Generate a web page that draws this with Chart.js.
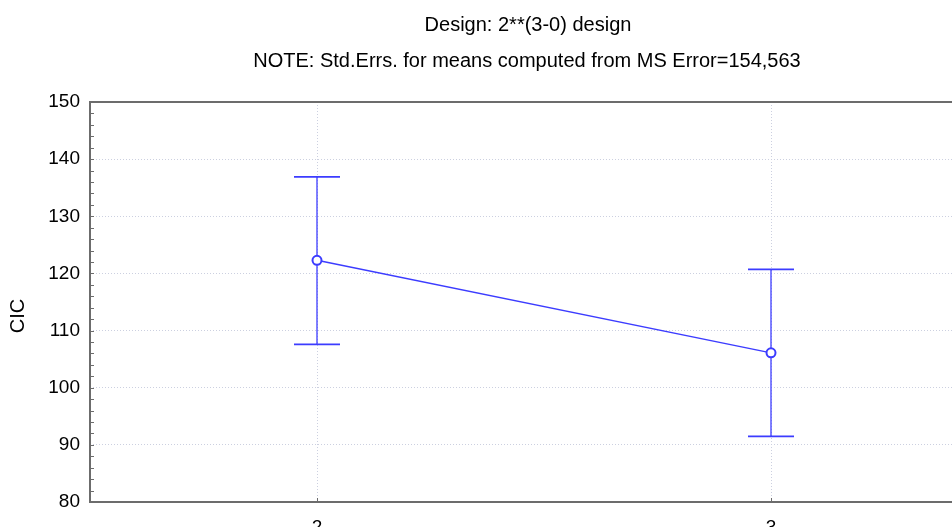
<!DOCTYPE html>
<html>
<head>
<meta charset="utf-8">
<script src="https://cdn.jsdelivr.net/npm/chart.js@4.4.1/dist/chart.umd.min.js"></script>
<style>
  html, body { margin: 0; padding: 0; background: #ffffff; overflow: hidden; }
  #wrap { width: 1054px; height: 527px; }
</style>
</head>
<body>
<div id="wrap"><canvas id="chart" width="1054" height="527"></canvas></div>
<script>
// Factor levels and cell means with their error-bar limits
const levels = ['2', '3'];
const means = [122.3, 106.1];
const upperLimits = [136.9, 120.7];
const lowerLimits = [107.6, 91.5];

const titleLines = ['Design: 2**(3-0) design', 'NOTE: Std.Errs. for means computed from MS Error=154,563'];
const yAxisLabel = 'CIC';
const yMin = 80, yMax = 150, yMajorStep = 10, yMinorStep = 2;

const blue = '#3c3cff';
const axisGray = '#6c6c6c';
const gridGray = '#ccd0e0';
const fontFamily = '"Liberation Sans", Arial, sans-serif';

// Two-line heading and the rotated y-axis caption
const captions = {
  id: 'captions',
  afterDraw(chart) {
    const { ctx } = chart;
    ctx.save();
    ctx.fillStyle = '#000000';
    ctx.font = '20px ' + fontFamily;
    ctx.textAlign = 'center';
    ctx.textBaseline = 'alphabetic';
    ctx.fillText(titleLines[0], 528, 31);
    ctx.fillText(titleLines[1], 527, 67);
    ctx.translate(24, 316);
    ctx.rotate(-Math.PI / 2);
    ctx.font = '20px ' + fontFamily;
    ctx.fillText(yAxisLabel, 0, 0);
    ctx.restore();
  }
};

// Vertical whiskers with caps, drawn under the mean markers
const errorBars = {
  id: 'errorBars',
  beforeDatasetsDraw(chart) {
    const { ctx, scales: { x, y } } = chart;
    ctx.save();
    ctx.setLineDash([]);
    ctx.strokeStyle = blue;
    levels.forEach((lv, i) => {
      const px = x.getPixelForValue(i);
      const top = y.getPixelForValue(upperLimits[i]);
      const bot = y.getPixelForValue(lowerLimits[i]);
      const cap = 23;
      ctx.lineWidth = 1.3;
      ctx.beginPath();
      ctx.moveTo(px, top); ctx.lineTo(px, bot);
      ctx.stroke();
      ctx.lineWidth = 1.8;
      ctx.beginPath();
      ctx.moveTo(px - cap, top); ctx.lineTo(px + cap, top);
      ctx.moveTo(px - cap, bot); ctx.lineTo(px + cap, bot);
      ctx.stroke();
    });
    ctx.restore();
  }
};

// Plot frame (left, bottom, top) and inward tick marks on both axes
const frame = {
  id: 'frame',
  afterDraw(chart) {
    const { ctx, chartArea: a, scales: { x, y } } = chart;
    ctx.save();
    ctx.setLineDash([]);
    ctx.strokeStyle = axisGray;
    ctx.lineWidth = 2;
    ctx.beginPath();
    ctx.moveTo(a.right + 10, a.top); ctx.lineTo(a.left, a.top);
    ctx.lineTo(a.left, a.bottom); ctx.lineTo(a.right + 10, a.bottom);
    ctx.stroke();
    ctx.lineWidth = 1;
    ctx.beginPath();
    y.ticks.forEach(t => {
      const py = Math.round(y.getPixelForValue(t.value)) + 0.5;
      ctx.moveTo(a.left, py); ctx.lineTo(a.left + 4, py);
    });
    levels.forEach((lv, i) => {
      const px = Math.round(x.getPixelForValue(i)) + 0.5;
      ctx.moveTo(px, a.bottom); ctx.lineTo(px, a.bottom - 4);
    });
    ctx.stroke();
    ctx.restore();
  }
};

new Chart(document.getElementById('chart'), {
  type: 'line',
  data: {
    labels: levels,
    datasets: [{
      data: means,
      borderColor: blue,
      borderWidth: 1.4,
      pointRadius: 4.5,
      pointHoverRadius: 4.5,
      pointBorderWidth: 2,
      pointBorderColor: blue,
      pointBackgroundColor: '#ffffff',
      tension: 0
    }]
  },
  options: {
    responsive: false,
    animation: false,
    devicePixelRatio: 1,
    layout: { padding: { left: 0, right: 56, top: 102, bottom: 0 } },
    plugins: {
      legend: { display: false },
      tooltip: { enabled: false },
      title: { display: false }
    },
    scales: {
      x: {
        offset: true,
        grid: {
          offset: false,
          drawTicks: false,
          color: gridGray,
          lineWidth: 1
        },
        border: { display: false, dash: [1, 2] },
        ticks: {
          color: '#000000',
          padding: 14,
          font: { family: fontFamily, size: 19 }
        },
        afterFit(s) { s.height = 25; }
      },
      y: {
        min: yMin,
        max: yMax,
        grid: {
          drawTicks: false,
          color: ctx => (ctx.tick && ctx.tick.value % yMajorStep === 0 && ctx.tick.value !== yMin && ctx.tick.value !== yMax) ? gridGray : 'rgba(0,0,0,0)',
          lineWidth: 1
        },
        border: { display: false, dash: [1, 2] },
        ticks: {
          stepSize: yMinorStep,
          autoSkip: false,
          color: '#000000',
          padding: 10,
          font: { family: fontFamily, size: 19 },
          callback: v => (v % yMajorStep === 0 ? String(v) : '')
        },
        afterFit(s) { s.width = 90; }
      }
    }
  },
  plugins: [errorBars, frame, captions]
});
</script>
</body>
</html>
